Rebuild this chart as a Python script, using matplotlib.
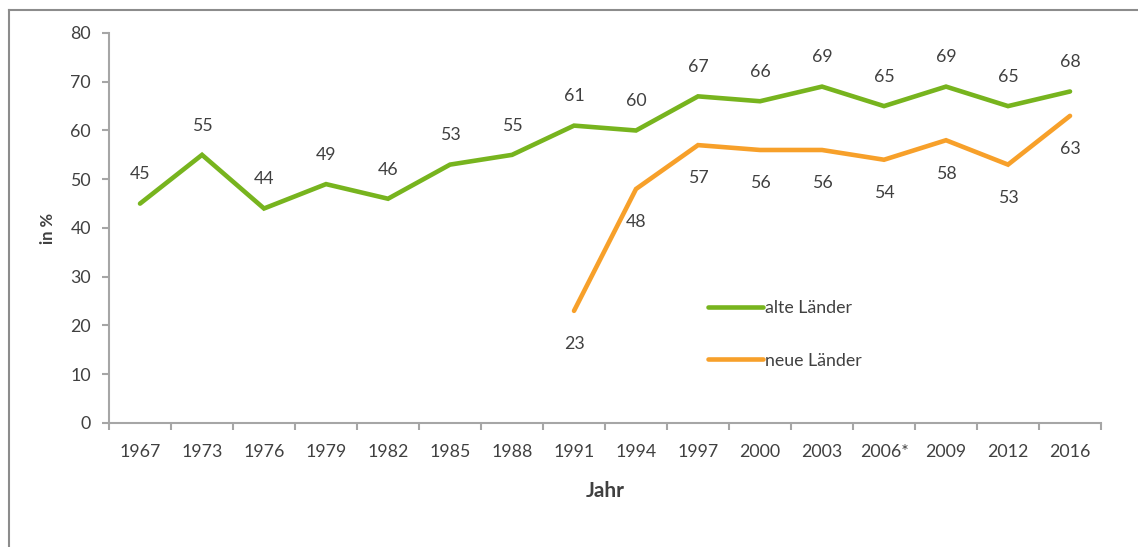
import matplotlib.pyplot as plt
from matplotlib.lines import Line2D
import numpy as np

plt.rcParams['font.family'] = ['Lato', 'DejaVu Sans']

years = ['1967', '1973', '1976', '1979', '1982', '1985', '1988', '1991',
         '1994', '1997', '2000', '2003', '2006*', '2009', '2012', '2016']
alte = [45, 55, 44, 49, 46, 53, 55, 61, 60, 67, 66, 69, 65, 69, 65, 68]
neue = [None, None, None, None, None, None, None, 23, 48, 57, 56, 56, 54, 58, 53, 63]

green = '#77B41E'
orange = '#F7A02A'
txt = '#404040'
axis_col = '#A6A6A6'
fs = 12.8

fig = plt.figure(figsize=(11.38, 5.47), dpi=100)
ax = fig.add_axes([0.0958, 0.2267, 0.8717, 0.713])

x = np.arange(len(years))
ax.plot(x, alte, color=green, lw=3.3, solid_capstyle='round', solid_joinstyle='miter', label='alte Länder')
xn = [i for i, v in enumerate(neue) if v is not None]
yn = [v for v in neue if v is not None]
ax.plot(xn, yn, color=orange, lw=3.3, solid_capstyle='round', solid_joinstyle='miter', label='neue Länder')

for i, v in enumerate(alte):
    ax.annotate(str(v), (i, v), xytext=(0, 21), textcoords='offset points',
                ha='center', va='center', fontsize=fs, color=txt)
for i, v in zip(xn, yn):
    ax.annotate(str(v), (i, v), xytext=(0, -24), textcoords='offset points',
                ha='center', va='center', fontsize=fs, color=txt)

ax.set_xlim(-0.5, len(years) - 0.5)
ax.set_ylim(0, 80)
ax.set_yticks(range(0, 81, 10))
ax.set_xticks(np.arange(-0.5, len(years), 1))
ax.set_xticklabels([])
ax.set_xticks(x, minor=True)
ax.set_xticklabels(years, minor=True)
ax.tick_params(axis='x', which='minor', length=0, pad=15, labelsize=fs, labelcolor=txt)
ax.tick_params(axis='x', which='major', length=5, color=axis_col, width=1.5)
ax.tick_params(axis='y', length=5, color=axis_col, width=1.5, pad=8, labelsize=fs, labelcolor=txt)

for s in ['top', 'right']:
    ax.spines[s].set_visible(False)
for s in ['left', 'bottom']:
    ax.spines[s].set_color(axis_col)
    ax.spines[s].set_linewidth(1.5)

ax.set_ylabel('in %', fontsize=12, fontweight='bold', color=txt, labelpad=10)
ax.set_xlabel('Jahr', fontsize=15, fontweight='bold', color=txt, labelpad=15)

leg = ax.legend(loc='upper left', bbox_to_anchor=(0.595, 0.338), frameon=False,
                handlelength=3.1, handletextpad=0.1, labelspacing=2.05,
                fontsize=fs, borderpad=0)
for t in leg.get_texts():
    t.set_color(txt)

# outer chart frame (left and top only visible)
fig.add_artist(Line2D([9 / 1138, 9 / 1138], [0, 1 - 10 / 547], color='#8C8C8C', lw=1.5))
fig.add_artist(Line2D([9 / 1138, 1], [1 - 10 / 547, 1 - 10 / 547], color='#8C8C8C', lw=1.5))

fig.savefig('out.png', dpi=100)
